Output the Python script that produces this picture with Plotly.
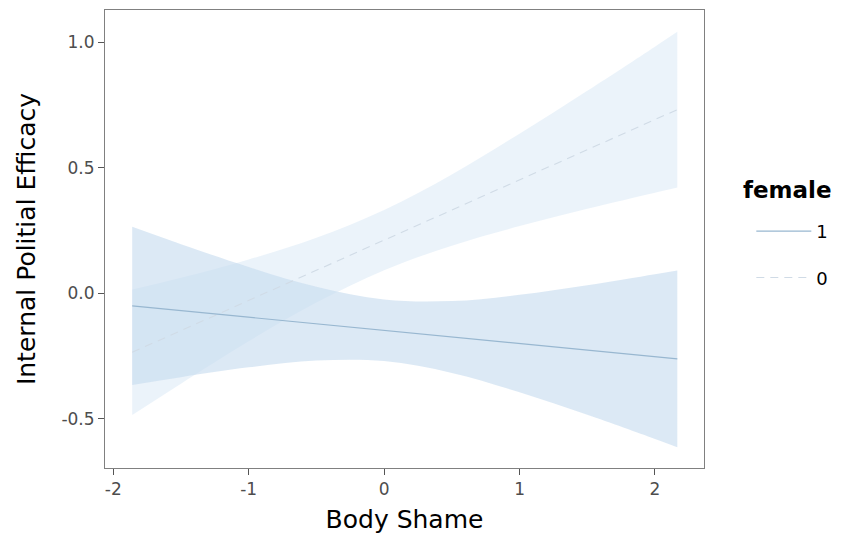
import plotly.graph_objects as go

# Body shame values at which the fitted lines and confidence bands are evaluated
body_shame = [-1.86, -1.5, -1.0, -0.5, 0.0, 0.5, 1.0, 1.5, 2.0, 2.165]

# female = 1: fitted internal political efficacy and its confidence band
female1_fit = [-0.050, -0.069, -0.095, -0.121, -0.147, -0.174, -0.200, -0.226, -0.252, -0.261]
female1_upper = [0.265, 0.196, 0.105, 0.026, -0.025, -0.031, -0.006, 0.032, 0.076, 0.091]
female1_lower = [-0.365, -0.334, -0.295, -0.268, -0.270, -0.317, -0.394, -0.484, -0.580, -0.613]

# female = 0: fitted internal political efficacy and its confidence band
female0_fit = [-0.235, -0.149, -0.028, 0.092, 0.212, 0.332, 0.452, 0.572, 0.692, 0.732]
female0_upper = [0.015, 0.062, 0.135, 0.221, 0.332, 0.474, 0.636, 0.807, 0.983, 1.042]
female0_lower = [-0.485, -0.360, -0.191, -0.037, 0.092, 0.190, 0.268, 0.337, 0.401, 0.422]

x_ticks = [-2, -1, 0, 1, 2]
x_labels = ["-2", "-1", "0", "1", "2"]
y_ticks = [-0.5, 0.0, 0.5, 1.0]
y_labels = ["-0.5", "0.0", "0.5", "1.0"]

FONT = "DejaVu Sans"
TICK_GREY = "#4d4d4d"

fig = go.Figure()


def add_band(lower, upper, fillcolor):
    fig.add_trace(go.Scatter(
        x=body_shame, y=lower, mode="lines",
        line=dict(width=0, shape="spline"),
        showlegend=False, hoverinfo="skip",
    ))
    fig.add_trace(go.Scatter(
        x=body_shame, y=upper, mode="lines",
        line=dict(width=0, shape="spline"),
        fill="tonexty", fillcolor=fillcolor,
        showlegend=False, hoverinfo="skip",
    ))


add_band(female0_lower, female0_upper, "rgba(222,235,247,0.62)")
add_band(female1_lower, female1_upper, "rgba(198,219,239,0.62)")

fig.add_trace(go.Scatter(
    x=body_shame, y=female0_fit, mode="lines", name="0",
    line=dict(color="#d0dbe6", width=1.1, dash="8px,6px"),
    legendgroup="0", legendrank=2,
))
fig.add_trace(go.Scatter(
    x=body_shame, y=female1_fit, mode="lines", name="1",
    line=dict(color="#98b7d0", width=1.1),
    legendgroup="1", legendrank=1,
))

axis_common = dict(
    showgrid=False, zeroline=False,
    showline=True, mirror=True, linecolor="#808080", linewidth=1,
    ticks="outside", ticklen=6, tickwidth=1, tickcolor="#555555",
    tickfont=dict(family=FONT, size=17, color=TICK_GREY),
)

fig.update_layout(
    width=843, height=538,
    margin=dict(l=105, r=139, t=9, b=69),
    paper_bgcolor="white", plot_bgcolor="white",
    font=dict(family=FONT),
    xaxis=dict(
        range=[-2.061, 2.362], tickvals=x_ticks, ticktext=x_labels,
        title=dict(text="Body Shame", font=dict(family=FONT, size=25, color="black"), standoff=12),
        **axis_common,
    ),
    yaxis=dict(
        range=[-0.696, 1.129], tickvals=y_ticks, ticktext=y_labels,
        title=dict(text="Internal Politial Efficacy", font=dict(family=FONT, size=25, color="black"), standoff=18),
        **axis_common,
    ),
    legend=dict(
        x=1.079, y=0.557, xanchor="left", yanchor="top",
        font=dict(family=FONT, size=18, color="black"),
        tracegroupgap=20, itemwidth=55,
        bgcolor="rgba(0,0,0,0)",
    ),
    annotations=[dict(
        text="<b>female</b>", xref="paper", yref="paper",
        x=1.062, y=0.607, xanchor="left", yanchor="middle", showarrow=False,
        font=dict(family=FONT, size=23, color="black"),
    )],
)

fig.write_html("out.html")
